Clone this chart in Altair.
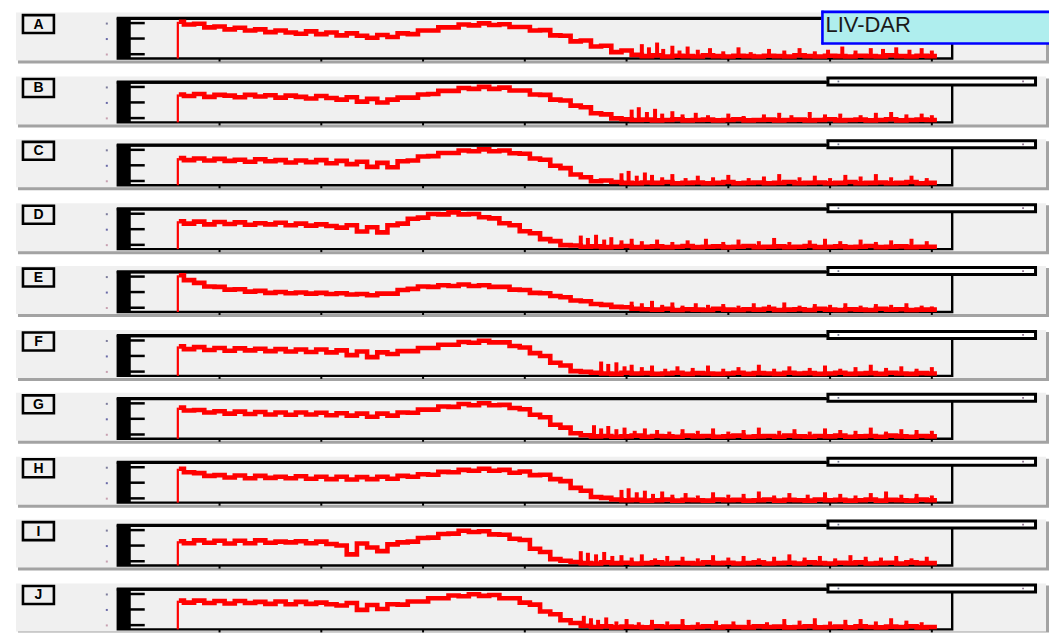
import altair as alt
import pandas as pd

# ---------------- data ----------------
PANELS = ["A", "B", "C", "D", "E", "F", "G", "H", "I", "J"]
X_RISE = 0.59      # position of the vertical rise at the start of each trace
X_FIRST = 0.6      # first sample
X_STEP = 0.1       # sample spacing
X_END = 8.05       # end of the last step
TICKS = [1, 2, 3, 4, 5, 6, 7, 8]

A_VALS = [92, 85, 87, 78, 80, 73, 77, 70, 73, 66, 70, 65, 62, 68, 61, 65, 58, 63, 57, 52,
          59, 54, 63, 61, 70, 70, 78, 78, 85, 83, 88, 84, 86, 79, 79, 70, 71, 58, 57, 43,
          45, 30, 32, 16, 20, 9,
          6, 8, 5, 7, 6, 5, 8, 6, 5, 7, 6, 5, 7, 6, 5, 8, 6, 5, 7, 6, 5, 7, 6, 5,
          8, 6, 5, 7, 6]
B_VALS = [70, 66, 71, 64, 69, 67, 63, 69, 65, 68, 62, 67, 64, 60, 66, 61, 57, 63, 52, 59,
          50, 57, 62, 62, 70, 71, 79, 79, 86, 84, 89, 84, 87, 80, 80, 70, 69, 57, 55, 42,
          38, 23, 20, 10, 8,
          6, 7, 5, 6, 8, 5, 6, 7, 5, 6, 8, 5, 6, 7, 5, 6, 7, 5, 6, 8, 5, 6, 7, 5, 6,
          8, 5, 6, 7, 6]
C_VALS = [68, 63, 67, 62, 66, 61, 64, 59, 65, 60, 63, 57, 62, 58, 63, 55, 61, 53, 59, 46,
          56, 45, 60, 62, 72, 73, 81, 81, 87, 85, 90, 85, 87, 80, 79, 67, 64, 49, 43, 27,
          20, 10, 12, 8,
          6, 5, 7, 6, 8, 5, 6, 7, 5, 6, 8, 5, 6, 7, 5, 6, 8, 5, 6, 7, 5, 6, 8, 5, 6,
          7, 5, 6, 8, 5, 6]
D_VALS = [70, 64, 69, 62, 68, 63, 67, 61, 65, 62, 66, 60, 64, 59, 62, 58, 54, 60, 44, 55,
          42, 60, 64, 76, 79, 88, 87, 92, 87, 88, 80, 77, 65, 60, 45, 40, 25, 20, 10, 9,
          6, 7, 5, 6, 8, 5, 6, 7, 5, 6, 8, 5, 6, 7, 5, 6, 8, 5, 6, 7, 5, 6, 8, 5, 6,
          7, 5, 6, 8, 5, 6, 7, 5, 6, 6]
E_VALS = [92, 80, 73, 64, 63, 56, 57, 51, 53, 48, 50, 47, 49, 46, 48, 45, 47, 44, 45, 42,
          46, 46, 55, 58, 64, 63, 67, 65, 69, 65, 67, 63, 63, 56, 55, 48, 47, 40, 37, 29,
          27, 20, 18, 13, 12,
          8, 7, 6, 8, 5, 7, 6, 5, 8, 6, 5, 7, 6, 8, 5, 6, 7, 5, 8, 6, 5, 7, 6, 5, 8,
          6, 7, 5, 6, 6]
F_VALS = [74, 67, 72, 65, 70, 63, 69, 64, 68, 62, 67, 61, 66, 60, 66, 59, 64, 52, 61, 47,
          59, 55, 62, 62, 70, 70, 78, 78, 85, 83, 88, 84, 84, 75, 71, 57, 50, 33, 26, 12,
          10, 8,
          6, 5, 8, 6, 7, 5, 6, 8, 5, 7, 6, 5, 6, 8, 5, 7, 6, 5, 8, 6, 7, 5, 6, 8, 5,
          6, 7, 5, 8, 6, 5, 7, 6]
G_VALS = [78, 71, 72, 66, 69, 63, 68, 62, 67, 61, 66, 60, 66, 61, 65, 59, 64, 58, 63, 55,
          63, 58, 66, 65, 73, 73, 81, 80, 87, 84, 89, 84, 85, 77, 74, 60, 54, 35, 28, 14,
          9,
          6, 7, 5, 6, 8, 5, 7, 6, 5, 8, 6, 7, 5, 6, 8, 5, 6, 7, 5, 8, 6, 5, 7, 6, 8,
          5, 6, 7, 5, 8, 6, 5, 7, 6]
H_VALS = [85, 76, 74, 67, 69, 63, 68, 61, 67, 62, 65, 61, 66, 60, 65, 59, 65, 58, 64, 59,
          65, 60, 67, 65, 71, 70, 77, 76, 82, 80, 85, 80, 82, 75, 78, 69, 70, 59, 54, 37,
          30, 14, 12, 8,
          6, 7, 5, 6, 8, 5, 7, 6, 5, 8, 6, 7, 5, 6, 8, 5, 7, 6, 5, 8, 6, 7, 5, 6, 8,
          5, 7, 6, 5, 8, 6]
I_VALS = [61, 56, 63, 57, 62, 55, 62, 56, 63, 57, 60, 58, 61, 56, 60, 54, 50, 28, 55, 45,
          36, 53, 58, 60, 69, 70, 79, 80, 87, 84, 86, 78, 77, 67, 64, 42, 34, 16, 12, 9,
          6, 5, 8, 6, 7, 5, 6, 8, 5, 7, 6, 5, 8, 6, 7, 5, 6, 8, 5, 6, 7, 5, 8, 6, 5,
          7, 6, 8, 5, 6, 7, 5, 8, 6, 6]
J_VALS = [72, 67, 72, 66, 71, 65, 71, 66, 69, 64, 70, 63, 69, 64, 67, 63, 60, 66, 49, 61,
          51, 63, 62, 70, 70, 78, 78, 85, 83, 88, 84, 86, 78, 78, 67, 62, 45, 38, 23, 16,
          9, 6, 8, 5, 7, 6, 5, 8, 6, 7, 5, 6, 8, 5, 7, 6, 5, 8, 6, 7, 5, 6, 8, 5, 6,
          7, 5, 8, 6, 5, 7, 6, 8, 5, 6]

# spikes of the noisy tail: positions and heights
A_SPK_X = [5.15, 5.22, 5.3, 5.36, 5.45, 5.52, 5.6, 5.7, 5.82, 5.95, 6.1, 6.22, 6.4, 6.55,
           6.7, 6.85, 6.98, 7.12, 7.25, 7.4, 7.52, 7.65, 7.78, 7.9, 8.0]
A_SPK_H = [36, 28, 40, 24, 32, 20, 30, 22, 26, 18, 28, 16, 24, 20, 26, 18, 22, 30, 20, 26,
           24, 28, 22, 26, 20]
B_SPK_X = [5.05, 5.12, 5.2, 5.28, 5.35, 5.45, 5.55, 5.68, 5.8, 6.0, 6.15, 6.35, 6.5, 6.62,
           6.8, 6.95, 7.1, 7.3, 7.45, 7.6, 7.75, 7.9, 8.0]
B_SPK_H = [32, 38, 26, 34, 22, 28, 20, 24, 18, 22, 16, 20, 24, 18, 26, 20, 22, 18, 24, 26,
           20, 22, 18]
C_SPK_X = [4.95, 5.02, 5.1, 5.18, 5.25, 5.35, 5.45, 5.58, 5.7, 5.85, 6.0, 6.2, 6.35, 6.5,
           6.7, 6.85, 7.0, 7.15, 7.3, 7.45, 7.6, 7.8, 7.95]
C_SPK_H = [30, 36, 24, 32, 26, 20, 28, 18, 24, 20, 26, 18, 22, 28, 20, 24, 18, 26, 22, 28,
           20, 24, 18]
D_SPK_X = [4.55, 4.62, 4.7, 4.78, 4.85, 4.95, 5.05, 5.15, 5.3, 5.45, 5.6, 5.78, 5.95, 6.1,
           6.3, 6.45, 6.6, 6.8, 6.95, 7.1, 7.3, 7.45, 7.6, 7.8, 7.95]
D_SPK_H = [34, 28, 36, 24, 30, 22, 26, 20, 24, 18, 22, 26, 18, 24, 20, 28, 18, 22, 26, 20,
           24, 18, 22, 26, 20]
E_SPK_X = [5.05, 5.15, 5.25, 5.35, 5.45, 5.55, 5.68, 5.8, 5.95, 6.1, 6.25, 6.4, 6.55, 6.7,
           6.85, 7.0, 7.15, 7.3, 7.45, 7.6, 7.75, 7.9, 8.0]
E_SPK_H = [26, 22, 28, 18, 24, 16, 22, 18, 20, 16, 22, 18, 24, 16, 20, 18, 22, 16, 20, 18,
           22, 16, 14]
F_SPK_X = [4.75, 4.82, 4.9, 4.98, 5.05, 5.15, 5.25, 5.38, 5.5, 5.65, 5.8, 5.95, 6.1, 6.3,
           6.45, 6.6, 6.8, 6.95, 7.1, 7.25, 7.4, 7.55, 7.7, 7.85, 8.0]
F_SPK_H = [36, 30, 34, 24, 28, 22, 26, 18, 24, 20, 26, 18, 22, 28, 18, 24, 20, 26, 18, 22,
           28, 20, 24, 18, 22]
G_SPK_X = [4.68, 4.75, 4.82, 4.9, 4.98, 5.08, 5.18, 5.3, 5.42, 5.55, 5.7, 5.85, 6.0, 6.15,
           6.3, 6.5, 6.65, 6.8, 6.95, 7.1, 7.25, 7.4, 7.55, 7.7, 7.85, 8.0]
G_SPK_H = [34, 26, 32, 24, 28, 20, 26, 22, 18, 24, 20, 26, 18, 22, 28, 20, 24, 18, 26, 22,
           20, 28, 18, 24, 22, 20]
H_SPK_X = [4.95, 5.02, 5.1, 5.18, 5.26, 5.35, 5.45, 5.58, 5.7, 5.85, 6.0, 6.15, 6.3, 6.45,
           6.6, 6.78, 6.95, 7.1, 7.25, 7.4, 7.55, 7.7, 7.85, 8.0]
H_SPK_H = [32, 36, 26, 30, 22, 28, 20, 24, 18, 26, 20, 22, 28, 18, 24, 20, 26, 22, 18, 24,
           28, 20, 22, 18]
I_SPK_X = [4.55, 4.62, 4.7, 4.78, 4.86, 4.95, 5.05, 5.15, 5.28, 5.4, 5.55, 5.7, 5.85, 6.0,
           6.15, 6.3, 6.45, 6.6, 6.75, 6.9, 7.05, 7.2, 7.35, 7.5, 7.65, 7.8, 7.95]
I_SPK_H = [36, 32, 28, 34, 24, 26, 20, 28, 18, 24, 22, 18, 26, 20, 24, 18, 22, 28, 20, 24,
           18, 26, 22, 20, 24, 18, 22]
J_SPK_X = [4.58, 4.65, 4.72, 4.8, 4.9, 5.0, 5.12, 5.25, 5.4, 5.55, 5.7, 5.88, 6.05, 6.2,
           6.38, 6.55, 6.7, 6.85, 7.0, 7.15, 7.3, 7.45, 7.6, 7.75, 7.9]
J_SPK_H = [34, 28, 24, 30, 20, 26, 18, 24, 20, 26, 18, 22, 20, 24, 18, 26, 22, 28, 20, 24,
           26, 20, 28, 22, 18]

SERIES = {"A": A_VALS, "B": B_VALS, "C": C_VALS, "D": D_VALS, "E": E_VALS,
          "F": F_VALS, "G": G_VALS, "H": H_VALS, "I": I_VALS, "J": J_VALS}
SPIKES = {"A": (A_SPK_X, A_SPK_H), "B": (B_SPK_X, B_SPK_H), "C": (C_SPK_X, C_SPK_H),
          "D": (D_SPK_X, D_SPK_H), "E": (E_SPK_X, E_SPK_H), "F": (F_SPK_X, F_SPK_H),
          "G": (G_SPK_X, G_SPK_H), "H": (H_SPK_X, H_SPK_H), "I": (I_SPK_X, I_SPK_H),
          "J": (J_SPK_X, J_SPK_H)}

# ---------------- layout ----------------
W = 1043
PANEL_H = [64, 63, 64, 63, 64, 63, 64, 63, 64, 51]
PANEL_BG = "#f0f0f0"
SHADOW = "#a3a3a3"
RED = "#ff0000"
XS = alt.Scale(domain=[0, 8.2], range=[110, 946], nice=False, zero=False)
YS = alt.Scale(domain=[0, 100], range=[48, 8], nice=False, zero=False)

ONE = pd.DataFrame({"k": [0]})


def rect(x, x2, y, y2, **kw):
    return alt.Chart(ONE).mark_rect(**kw).encode(
        x=alt.value(x), x2=alt.value(x2), y=alt.value(y), y2=alt.value(y2))


def hrule(x, x2, y, color, width):
    return alt.Chart(ONE).mark_rule(color=color, strokeWidth=width, strokeCap="butt").encode(
        x=alt.value(x), x2=alt.value(x2), y=alt.value(y))


def vrule(x, y, y2, color, width):
    return alt.Chart(ONE).mark_rule(color=color, strokeWidth=width, strokeCap="butt").encode(
        x=alt.value(x), y=alt.value(y), y2=alt.value(y2))


def dot(x, y, color, size=5):
    return alt.Chart(ONE).mark_square(color=color, size=size, opacity=1).encode(
        x=alt.value(x), y=alt.value(y))


def panel(label, ph):
    vals = SERIES[label]
    xs = [round(X_FIRST + X_STEP * i, 3) for i in range(len(vals))] + [X_END]
    vs = vals + [vals[-1]]
    df = pd.DataFrame({"x": xs, "v": vs})
    rise = pd.DataFrame({"x": [X_RISE], "v": [vals[0]]})
    sx, sh = SPIKES[label]
    sdf = pd.DataFrame({"x": sx, "h": sh})

    layers = [
        rect(10, W, 4, min(53, ph), fill=SHADOW),               # shadow
        rect(8, 1040, 2, 50, fill=PANEL_BG),                   # panel body
        rect(15, 46, 4.5, 22.5, fill=PANEL_BG, stroke="black", strokeWidth=2.6),  # label box
        alt.Chart(ONE).mark_text(text=label, font="Liberation Sans", fontWeight="bold",
                                 fontSize=14, color="black", align="center",
                                 baseline="middle").encode(x=alt.value(30.5), y=alt.value(14)),
        dot(99, 13, "#7c7c9c", 4),
        dot(99, 28.5, "#6a6aa8", 4),
        dot(99, 44, "#c8a0b0", 4),
        rect(110, 946, 8, 48, fill=PANEL_BG, stroke="black", strokeWidth=2.4),  # plot frame
        hrule(109, 946 if label == "A" else 820, 7.7, "black", 3.2),
        rect(110, 123, 8, 48, fill="black"),
        hrule(110, 137, 12.5, "black", 2.5),
        hrule(110, 137, 28, "black", 2.5),
        hrule(110, 137, 43.7, "black", 2.5),
        alt.Chart(pd.DataFrame({"t": TICKS})).mark_rule(color="black", strokeWidth=2).encode(
            x=alt.X("t:Q", scale=XS, axis=None), y=alt.value(48), y2=alt.value(51)),
        alt.Chart(sdf).mark_rule(color=RED, strokeWidth=4, strokeCap="butt").encode(
            x=alt.X("x:Q", scale=XS, axis=None),
            y=alt.Y("h:Q", scale=YS, axis=None), y2=alt.datum(3)),
        alt.Chart(rise).mark_rule(color=RED, strokeWidth=2.2, strokeCap="butt").encode(
            x=alt.X("x:Q", scale=XS, axis=None),
            y=alt.Y("v:Q", scale=YS, axis=None), y2=alt.datum(0)),
        alt.Chart(df).mark_line(color=RED, strokeWidth=4.6, interpolate="step",
                                strokeCap="butt").encode(
            x=alt.X("x:Q", scale=XS, axis=None),
            y=alt.Y("v:Q", scale=YS, axis=None)),
    ]
    if label == "A":
        layers += [
            rect(815, W, 0, 33, fill="#afeeee"),
            vrule(816, 0, 34, "#0000ff", 2.6),
            hrule(815, W, 1.3, "#0000ff", 2.6),
            hrule(815, W, 33, "#0000ff", 2.6),
            alt.Chart(ONE).mark_text(text="LIV-DAR", font="Liberation Sans", fontSize=22,
                                     color="#1a1a1a", align="left",
                                     baseline="alphabetic").encode(
                x=alt.value(819), y=alt.value(21)),
        ]
    else:
        layers += [
            rect(820, 1031, 2, 12, fill="black"),
            rect(823, 1028, 5, 9, fill="white"),
            dot(832, 7, "#6a7088", 3),
            dot(1017, 7, "#886a88", 3),
        ]
    return alt.layer(*layers).properties(width=W, height=ph)


chart = alt.vconcat(*[panel(p, h) for p, h in zip(PANELS, PANEL_H)], spacing=0).properties(
    padding=0, background="white").configure_view(stroke=None)

chart.save("out.html", embed_options={"renderer": "svg", "actions": False})
